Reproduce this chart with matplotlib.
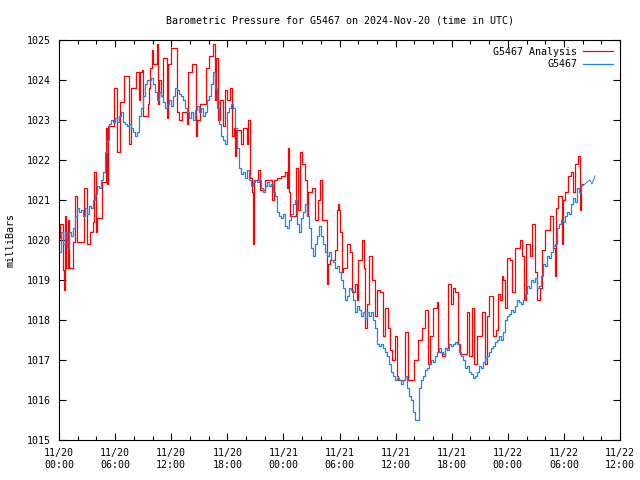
import numpy as np
import matplotlib
matplotlib.use('Agg')
import matplotlib.pyplot as plt
from matplotlib.ticker import MultipleLocator

# hours since 2024-11-20 00:00 UTC
x_ticks = [0, 6, 12, 18, 24, 30, 36, 42, 48, 54, 60]
x_labels = ['11/20\n00:00', '11/20\n06:00', '11/20\n12:00', '11/20\n18:00',
            '11/21\n00:00', '11/21\n06:00', '11/21\n12:00', '11/21\n18:00',
            '11/22\n00:00', '11/22\n06:00', '11/22\n12:00']

# G5467 Analysis (step values, change times in hours)
ana_hours = [0, 0.11, 0.43, 0.53, 0.64, 0.75, 0.96, 1.07, 1.50, 1.71, 1.93, 2.67, 2.99, 3.32,
             3.64, 3.74, 3.96, 4.06, 4.60, 5.03, 5.13, 5.24, 5.88, 6.20, 6.52, 6.95, 7.49, 7.70,
             8.24, 8.56, 8.66, 8.88, 8.98, 9.52, 9.63, 9.73, 9.95, 10.05, 10.48, 10.59, 10.70,
             10.91, 11.12, 11.55, 11.66, 11.98, 12.62, 12.83, 13.16, 13.69, 13.80, 14.22, 14.65,
             14.76, 15.08, 15.72, 16.04, 16.47, 16.68, 16.79, 17.01, 17.22, 17.54, 17.75, 17.97,
             18.29, 18.50, 18.72, 18.82, 18.93, 19.47, 19.68, 20.11, 20.21, 20.43, 20.64, 20.75,
             20.86, 21.28, 21.50, 22.03, 22.78, 22.99, 23.32, 23.74, 24.17, 24.39, 24.49, 24.60,
             24.71, 25.35, 25.56, 25.78, 25.99, 26.31, 26.52, 26.63, 27.06, 27.38, 27.70, 27.91,
             28.13, 28.66, 28.77, 28.98, 29.52, 29.73, 29.84, 29.95, 30.05, 30.27, 30.37, 30.80,
             31.12, 31.34, 31.66, 31.87, 31.98, 32.41, 32.62, 32.73, 32.94, 33.16, 33.48, 33.80,
             34.01, 34.33, 34.65, 34.87, 35.19, 35.40, 35.61, 35.94, 36.15, 36.26, 37.01, 37.33,
             37.97, 38.40, 38.82, 39.14, 39.47, 39.68, 40.00, 40.43, 40.53, 40.96, 41.28, 41.60,
             41.93, 42.14, 42.35, 42.67, 42.89, 43.64, 43.85, 44.17, 44.39, 44.71, 45.24, 45.56,
             45.78, 45.99, 46.42, 46.74, 46.95, 47.17, 47.38, 47.49, 47.70, 47.91, 48.24, 48.45,
             48.77, 49.30, 49.52, 49.73, 49.95, 50.37, 50.59, 50.91, 51.12, 51.44, 51.66, 51.98,
             52.51, 52.83, 53.05, 53.16, 53.37, 53.80, 53.90, 54.12, 54.44, 54.76, 54.97, 55.19,
             55.51, 55.72, 55.83, 56.04]
ana_mbar = [1020.05, 1020.4, 1019.25, 1018.75, 1020.6, 1019.3, 1020.5, 1019.3, 1019.95, 1021.1,
            1019.95, 1021.3, 1019.9, 1020.2, 1020.45, 1021.7, 1020.2, 1020.55, 1021.45, 1022.8,
            1021.4, 1022.85, 1023.8, 1022.2, 1023.45, 1024.1, 1022.4, 1023.8, 1024.2, 1023.5,
            1024.2, 1024.25, 1023.1, 1023.4, 1023.8, 1024.3, 1024.75, 1024.4, 1024.9, 1023.4,
            1024.0, 1023.6, 1024.55, 1023.05, 1024.4, 1024.8, 1023.2, 1023.0, 1023.2, 1022.9,
            1024.2, 1024.4, 1022.6, 1023.0, 1023.4, 1024.3, 1024.6, 1024.9, 1023.5, 1024.55,
            1023.0, 1023.5, 1022.85, 1023.75, 1023.5, 1023.8, 1022.6, 1022.8, 1022.1, 1022.75,
            1022.4, 1022.8, 1022.4, 1023.0, 1021.55, 1021.2, 1019.9, 1021.5, 1021.75, 1021.25,
            1021.5, 1021.0, 1021.5, 1021.55, 1021.6, 1021.7, 1021.3, 1022.3, 1021.2, 1020.6,
            1021.8, 1020.75, 1022.2, 1021.9, 1021.5, 1020.6, 1021.2, 1021.3, 1020.5, 1021.0,
            1021.5, 1020.5, 1018.9, 1019.4, 1019.5, 1019.75, 1020.75, 1020.9, 1020.75, 1020.2,
            1019.2, 1019.3, 1019.9, 1019.7, 1018.7, 1018.9, 1018.5, 1019.5, 1020.0, 1019.3,
            1017.8, 1018.4, 1019.6, 1019.0, 1018.1, 1018.75, 1018.7, 1017.6, 1018.3, 1017.8,
            1017.25, 1017.0, 1017.6, 1016.6, 1016.5, 1017.7, 1016.5, 1017.0, 1017.5, 1017.8,
            1018.25, 1016.9, 1017.6, 1018.3, 1018.45, 1017.2, 1017.1, 1017.3, 1018.9, 1018.4,
            1018.8, 1018.7, 1017.4, 1017.15, 1018.2, 1017.1, 1018.3, 1016.9, 1017.6, 1018.2,
            1016.9, 1018.1, 1018.6, 1017.6, 1017.75, 1018.65, 1018.5, 1019.1, 1019.0, 1018.3,
            1019.55, 1019.5, 1018.7, 1019.8, 1020.0, 1019.6, 1018.5, 1019.9, 1019.6, 1020.4,
            1019.2, 1018.5, 1018.8, 1019.75, 1020.25, 1020.6, 1019.8, 1019.1, 1020.8, 1021.1,
            1019.9, 1021.0, 1021.2, 1021.6, 1021.7, 1021.2, 1021.9, 1022.1, 1020.75, 1021.4,
            1021.4]

# G5467 observations, evenly spaced from 00:00 to 55.83 h
obs_end = 55.83
obs_mbar = [1019.7, 1020.2, 1019.9, 1020.2, 1019.8, 1020.2, 1020.1, 1020.3, 1020.6, 1020.8,
            1020.7, 1020.75, 1020.6, 1020.8, 1020.65, 1020.85, 1020.8, 1021.0, 1021.15, 1021.35,
            1021.3, 1021.5, 1021.7, 1022.2, 1022.5, 1022.9, 1023.0, 1022.95, 1023.05, 1022.95,
            1023.1, 1023.2, 1022.95, 1022.9, 1022.85, 1022.9, 1022.8, 1022.7, 1022.6, 1022.7,
            1023.1, 1023.3, 1023.6, 1023.9, 1024.0, 1024.0, 1024.05, 1023.9, 1023.7, 1023.5,
            1023.7, 1023.6, 1023.45, 1023.3, 1023.4, 1023.5, 1023.35, 1023.6, 1023.8, 1023.75,
            1023.65, 1023.6, 1023.5, 1023.3, 1023.2, 1023.05, 1023.2, 1023.0, 1023.25, 1023.35,
            1023.2, 1023.3, 1023.1, 1023.2, 1023.5, 1023.6, 1023.9, 1024.2, 1023.8, 1023.3,
            1022.9, 1022.6, 1022.5, 1022.4, 1023.2, 1023.3, 1023.4, 1023.3, 1022.8, 1022.3,
            1021.8, 1021.65, 1021.7, 1021.55, 1021.75, 1021.5, 1021.35, 1021.45, 1021.5, 1021.45,
            1021.5, 1021.3, 1021.2, 1021.35, 1021.45, 1021.35, 1021.4, 1021.2, 1021.1, 1020.7,
            1020.6, 1020.55, 1020.65, 1020.35, 1020.3, 1020.5, 1020.65, 1020.9, 1021.0, 1020.4,
            1020.2, 1020.55, 1020.7, 1020.9, 1020.6, 1020.3, 1019.8, 1019.6, 1019.9, 1020.1,
            1020.35, 1020.1, 1019.9, 1019.7, 1019.6, 1019.7, 1019.5, 1019.45, 1019.3, 1019.35,
            1019.2, 1019.0, 1018.8, 1018.5, 1018.6, 1018.8, 1018.75, 1018.5, 1018.2, 1018.35,
            1018.25, 1018.1, 1018.2, 1018.05, 1018.2, 1018.1, 1018.2, 1018.0, 1017.8, 1017.4,
            1017.35, 1017.4, 1017.3, 1017.2, 1017.1, 1016.9, 1016.7, 1016.6, 1016.5, 1016.55,
            1016.5, 1016.4, 1016.5, 1016.6, 1016.3, 1016.1, 1016.0, 1015.7, 1015.5, 1015.5,
            1016.3, 1016.5, 1016.6, 1016.75, 1016.8, 1016.9, 1017.0, 1016.95, 1017.1, 1017.2,
            1017.3, 1017.2, 1017.15, 1017.3, 1017.25, 1017.4, 1017.35, 1017.4, 1017.45, 1017.4,
            1017.2, 1017.1, 1017.0, 1016.8, 1016.85, 1016.7, 1016.65, 1016.55, 1016.6, 1016.7,
            1016.85, 1016.8, 1016.95, 1017.05, 1017.1, 1017.2, 1017.3, 1017.35, 1017.45, 1017.5,
            1017.6, 1017.5, 1017.7, 1018.0, 1018.1, 1018.15, 1018.25, 1018.2, 1018.35, 1018.5,
            1018.45, 1018.4, 1018.5, 1018.65, 1018.85, 1018.8, 1019.0, 1018.95, 1019.05, 1018.8,
            1018.85, 1019.1, 1019.4, 1019.35, 1019.6, 1019.55, 1019.7, 1019.85, 1019.9, 1020.3,
            1020.4, 1020.5, 1020.45, 1020.6, 1020.7, 1020.65, 1020.9, 1021.05, 1020.95, 1021.3,
            1021.2, 1021.4]
# last few sparse obs
tail_hours = [56.04, 56.47, 56.79, 57.0, 57.33]
tail_mbar = [1021.35, 1021.45, 1021.5, 1021.4, 1021.6]

plt.rcParams['font.family'] = ['DejaVu Sans Mono']
plt.rcParams['font.size'] = 7.2

fig = plt.figure(figsize=(6.4, 4.8), dpi=100)
ax = fig.add_axes([59/640, 40/480, 561/640, 400/480])

red = '#ff0000'
blue = '#1a86ee'

ax.plot(ana_hours, ana_mbar, drawstyle='steps-post', color=red, lw=0.9,
        label='G5467 Analysis')
obs_hours = np.linspace(0, obs_end, len(obs_mbar))
ax.plot(obs_hours, obs_mbar, drawstyle='steps-post', color=blue, lw=0.9, label='G5467')
ax.plot([obs_hours[-1]] + tail_hours, [obs_mbar[-1]] + tail_mbar, color=blue, lw=0.7)

ax.set_xlim(0, 60)
ax.set_ylim(1015, 1025)
ax.set_xticks(x_ticks)
ax.set_xticklabels(x_labels)
ax.xaxis.set_minor_locator(MultipleLocator(2))
ax.yaxis.set_major_locator(MultipleLocator(1))
ax.tick_params(direction='in', which='both', top=True, right=True, length=5, width=0.8, pad=6)
ax.tick_params(which='minor', length=3)
for s in ax.spines.values():
    s.set_linewidth(0.8)

ax.set_ylabel('milliBars', labelpad=8)
ax.set_title('Barometric Pressure for G5467 on 2024-Nov-20 (time in UTC)', fontsize=7.2, pad=12)

ax.legend(loc='upper right', frameon=False, markerfirst=False, handlelength=3.0,
          borderaxespad=0.4, labelspacing=0.25, handletextpad=0.6, borderpad=0.3)

fig.savefig('out.png', dpi=100)
